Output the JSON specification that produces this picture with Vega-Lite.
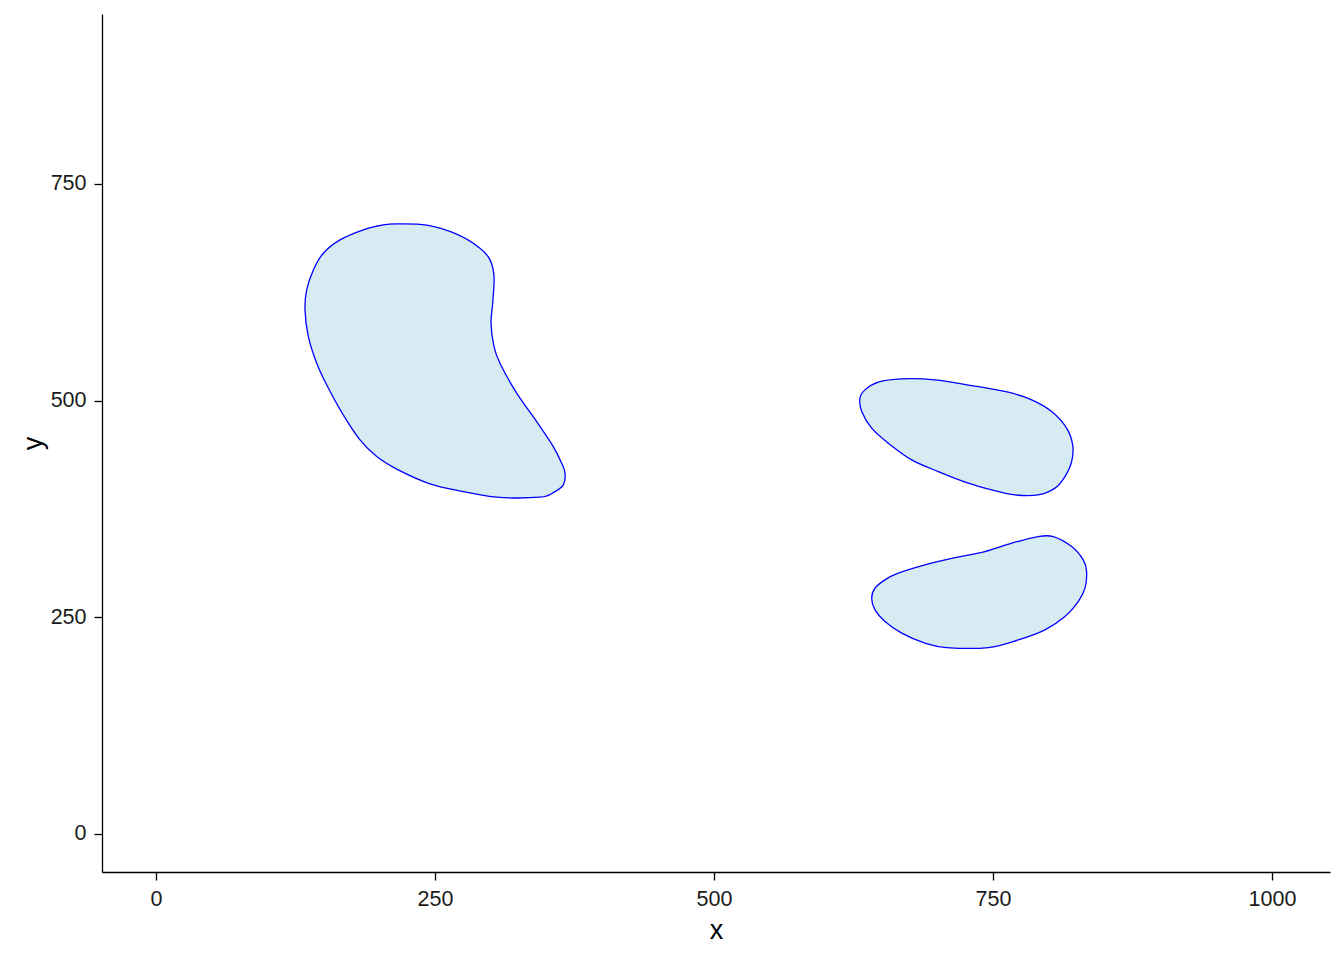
{
  "$schema": "https://vega.github.io/schema/vega-lite/v6.json",
  "width": 1228,
  "height": 858,
  "autosize": {"type": "none"},
  "padding": {"left": 102, "top": 14, "right": 14, "bottom": 88},
  "background": "white",
  "config": {"view": {"stroke": null}},
  "data": {"values": [
    {"g":"a","i":1,"x":215.7,"y":703.8},{"g":"a","i":2,"x":242.6,"y":702.3},{"g":"a","i":3,"x":269.4,"y":691.9},{"g":"a","i":4,"x":290.3,"y":675.8},{"g":"a","i":5,"x":299.3,"y":662.3},{"g":"a","i":6,"x":302.9,"y":643.0},{"g":"a","i":7,"x":301.7,"y":612.3},{"g":"a","i":8,"x":300.2,"y":589.2},{"g":"a","i":9,"x":302.9,"y":562.2},{"g":"a","i":10,"x":308.2,"y":543.1},{"g":"a","i":11,"x":323.2,"y":508.5},{"g":"a","i":12,"x":341.1,"y":475.7},{"g":"a","i":13,"x":356.0,"y":446.9},{"g":"a","i":14,"x":363.5,"y":427.7},{"g":"a","i":15,"x":366.5,"y":416.2},{"g":"a","i":16,"x":365.0,"y":402.7},{"g":"a","i":17,"x":356.0,"y":393.8},{"g":"a","i":18,"x":344.1,"y":388.5},{"g":"a","i":19,"x":305.3,"y":388.5},{"g":"a","i":20,"x":275.4,"y":394.9},{"g":"a","i":21,"x":245.5,"y":403.8},{"g":"a","i":22,"x":215.7,"y":420.8},{"g":"a","i":23,"x":197.8,"y":435.3},{"g":"a","i":24,"x":182.8,"y":454.6},{"g":"a","i":25,"x":167.8,"y":483.4},{"g":"a","i":26,"x":153.0,"y":518.0},{"g":"a","i":27,"x":144.0,"y":543.1},{"g":"a","i":28,"x":136.5,"y":573.8},{"g":"a","i":29,"x":133.5,"y":604.6},{"g":"a","i":30,"x":135.0,"y":627.7},{"g":"a","i":31,"x":141.0,"y":650.7},{"g":"a","i":32,"x":149.9,"y":670.0},{"g":"a","i":33,"x":164.9,"y":685.4},{"g":"a","i":34,"x":185.8,"y":697.0},{"g":"a","i":35,"x":203.7,"y":702.7},
    {"g":"b","i":1,"x":668.2,"y":525.0},{"g":"b","i":2,"x":698.0,"y":523.9},{"g":"b","i":3,"x":730.9,"y":517.3},{"g":"b","i":4,"x":763.7,"y":509.6},{"g":"b","i":5,"x":784.7,"y":500.8},{"g":"b","i":6,"x":802.6,"y":487.3},{"g":"b","i":7,"x":816.0,"y":468.1},{"g":"b","i":8,"x":821.4,"y":448.8},{"g":"b","i":9,"x":820.5,"y":429.6},{"g":"b","i":10,"x":814.5,"y":412.3},{"g":"b","i":11,"x":805.6,"y":398.9},{"g":"b","i":12,"x":790.6,"y":391.1},{"g":"b","i":13,"x":769.7,"y":391.1},{"g":"b","i":14,"x":748.8,"y":396.9},{"g":"b","i":15,"x":727.9,"y":404.6},{"g":"b","i":16,"x":701.0,"y":418.0},{"g":"b","i":17,"x":677.2,"y":431.5},{"g":"b","i":18,"x":656.2,"y":450.8},{"g":"b","i":19,"x":641.3,"y":468.1},{"g":"b","i":20,"x":632.4,"y":487.3},{"g":"b","i":21,"x":630.8,"y":502.7},{"g":"b","i":22,"x":635.3,"y":512.3},{"g":"b","i":23,"x":647.2,"y":521.2},
    {"g":"c","i":1,"x":790.6,"y":343.0},{"g":"c","i":2,"x":804.0,"y":343.0},{"g":"c","i":3,"x":820.5,"y":331.5},{"g":"c","i":4,"x":830.9,"y":316.1},{"g":"c","i":5,"x":833.9,"y":302.6},{"g":"c","i":6,"x":832.4,"y":283.5},{"g":"c","i":7,"x":826.4,"y":268.0},{"g":"c","i":8,"x":814.5,"y":250.7},{"g":"c","i":9,"x":796.6,"y":235.4},{"g":"c","i":10,"x":772.7,"y":223.8},{"g":"c","i":11,"x":745.8,"y":215.0},{"g":"c","i":12,"x":708.5,"y":215.0},{"g":"c","i":13,"x":689.1,"y":220.0},{"g":"c","i":14,"x":668.2,"y":231.6},{"g":"c","i":15,"x":653.2,"y":245.0},{"g":"c","i":16,"x":644.3,"y":258.5},{"g":"c","i":17,"x":641.3,"y":271.9},{"g":"c","i":18,"x":644.3,"y":283.5},{"g":"c","i":19,"x":653.2,"y":293.1},{"g":"c","i":20,"x":665.1,"y":300.8},{"g":"c","i":21,"x":689.1,"y":310.4},{"g":"c","i":22,"x":716.0,"y":318.8},{"g":"c","i":23,"x":742.8,"y":325.7},{"g":"c","i":24,"x":766.8,"y":335.4}
  ]},
  "mark": {"type": "line", "fill": "#D6EBF2", "stroke": "#0000FF", "strokeWidth": 1.3, "interpolate": "cardinal-closed"},
  "encoding": {
    "x": {"field": "x", "type": "quantitative",
      "scale": {"domain": [-48.4, 1052], "nice": false, "zero": false},
      "axis": {"values": [0, 250, 500, 750, 1000], "format": "d", "grid": false, "title": "x",
        "domainColor": "black", "domainWidth": 1.3, "tickColor": "black", "tickWidth": 1.3, "tickSize": 8,
        "labelColor": "#1a1a1a", "labelFont": "Liberation Sans", "labelFontSize": 21.5, "labelPadding": 8,
        "titleFont": "Liberation Sans", "titleFontSize": 27, "titleFontWeight": "normal", "titleColor": "black", "titlePadding": 8}},
    "y": {"field": "y", "type": "quantitative",
      "scale": {"domain": [-44, 946], "nice": false, "zero": false},
      "axis": {"values": [0, 250, 500, 750], "format": "d", "grid": false, "title": "y",
        "domainColor": "black", "domainWidth": 1.3, "tickColor": "black", "tickWidth": 1.3, "tickSize": 8,
        "labelColor": "#1a1a1a", "labelFont": "Liberation Sans", "labelFontSize": 21.5, "labelPadding": 8,
        "titleFont": "Liberation Sans", "titleFontSize": 27, "titleFontWeight": "normal", "titleColor": "black", "titlePadding": 3}},
    "detail": {"field": "g"},
    "order": {"field": "i", "type": "quantitative"}
  }
}
